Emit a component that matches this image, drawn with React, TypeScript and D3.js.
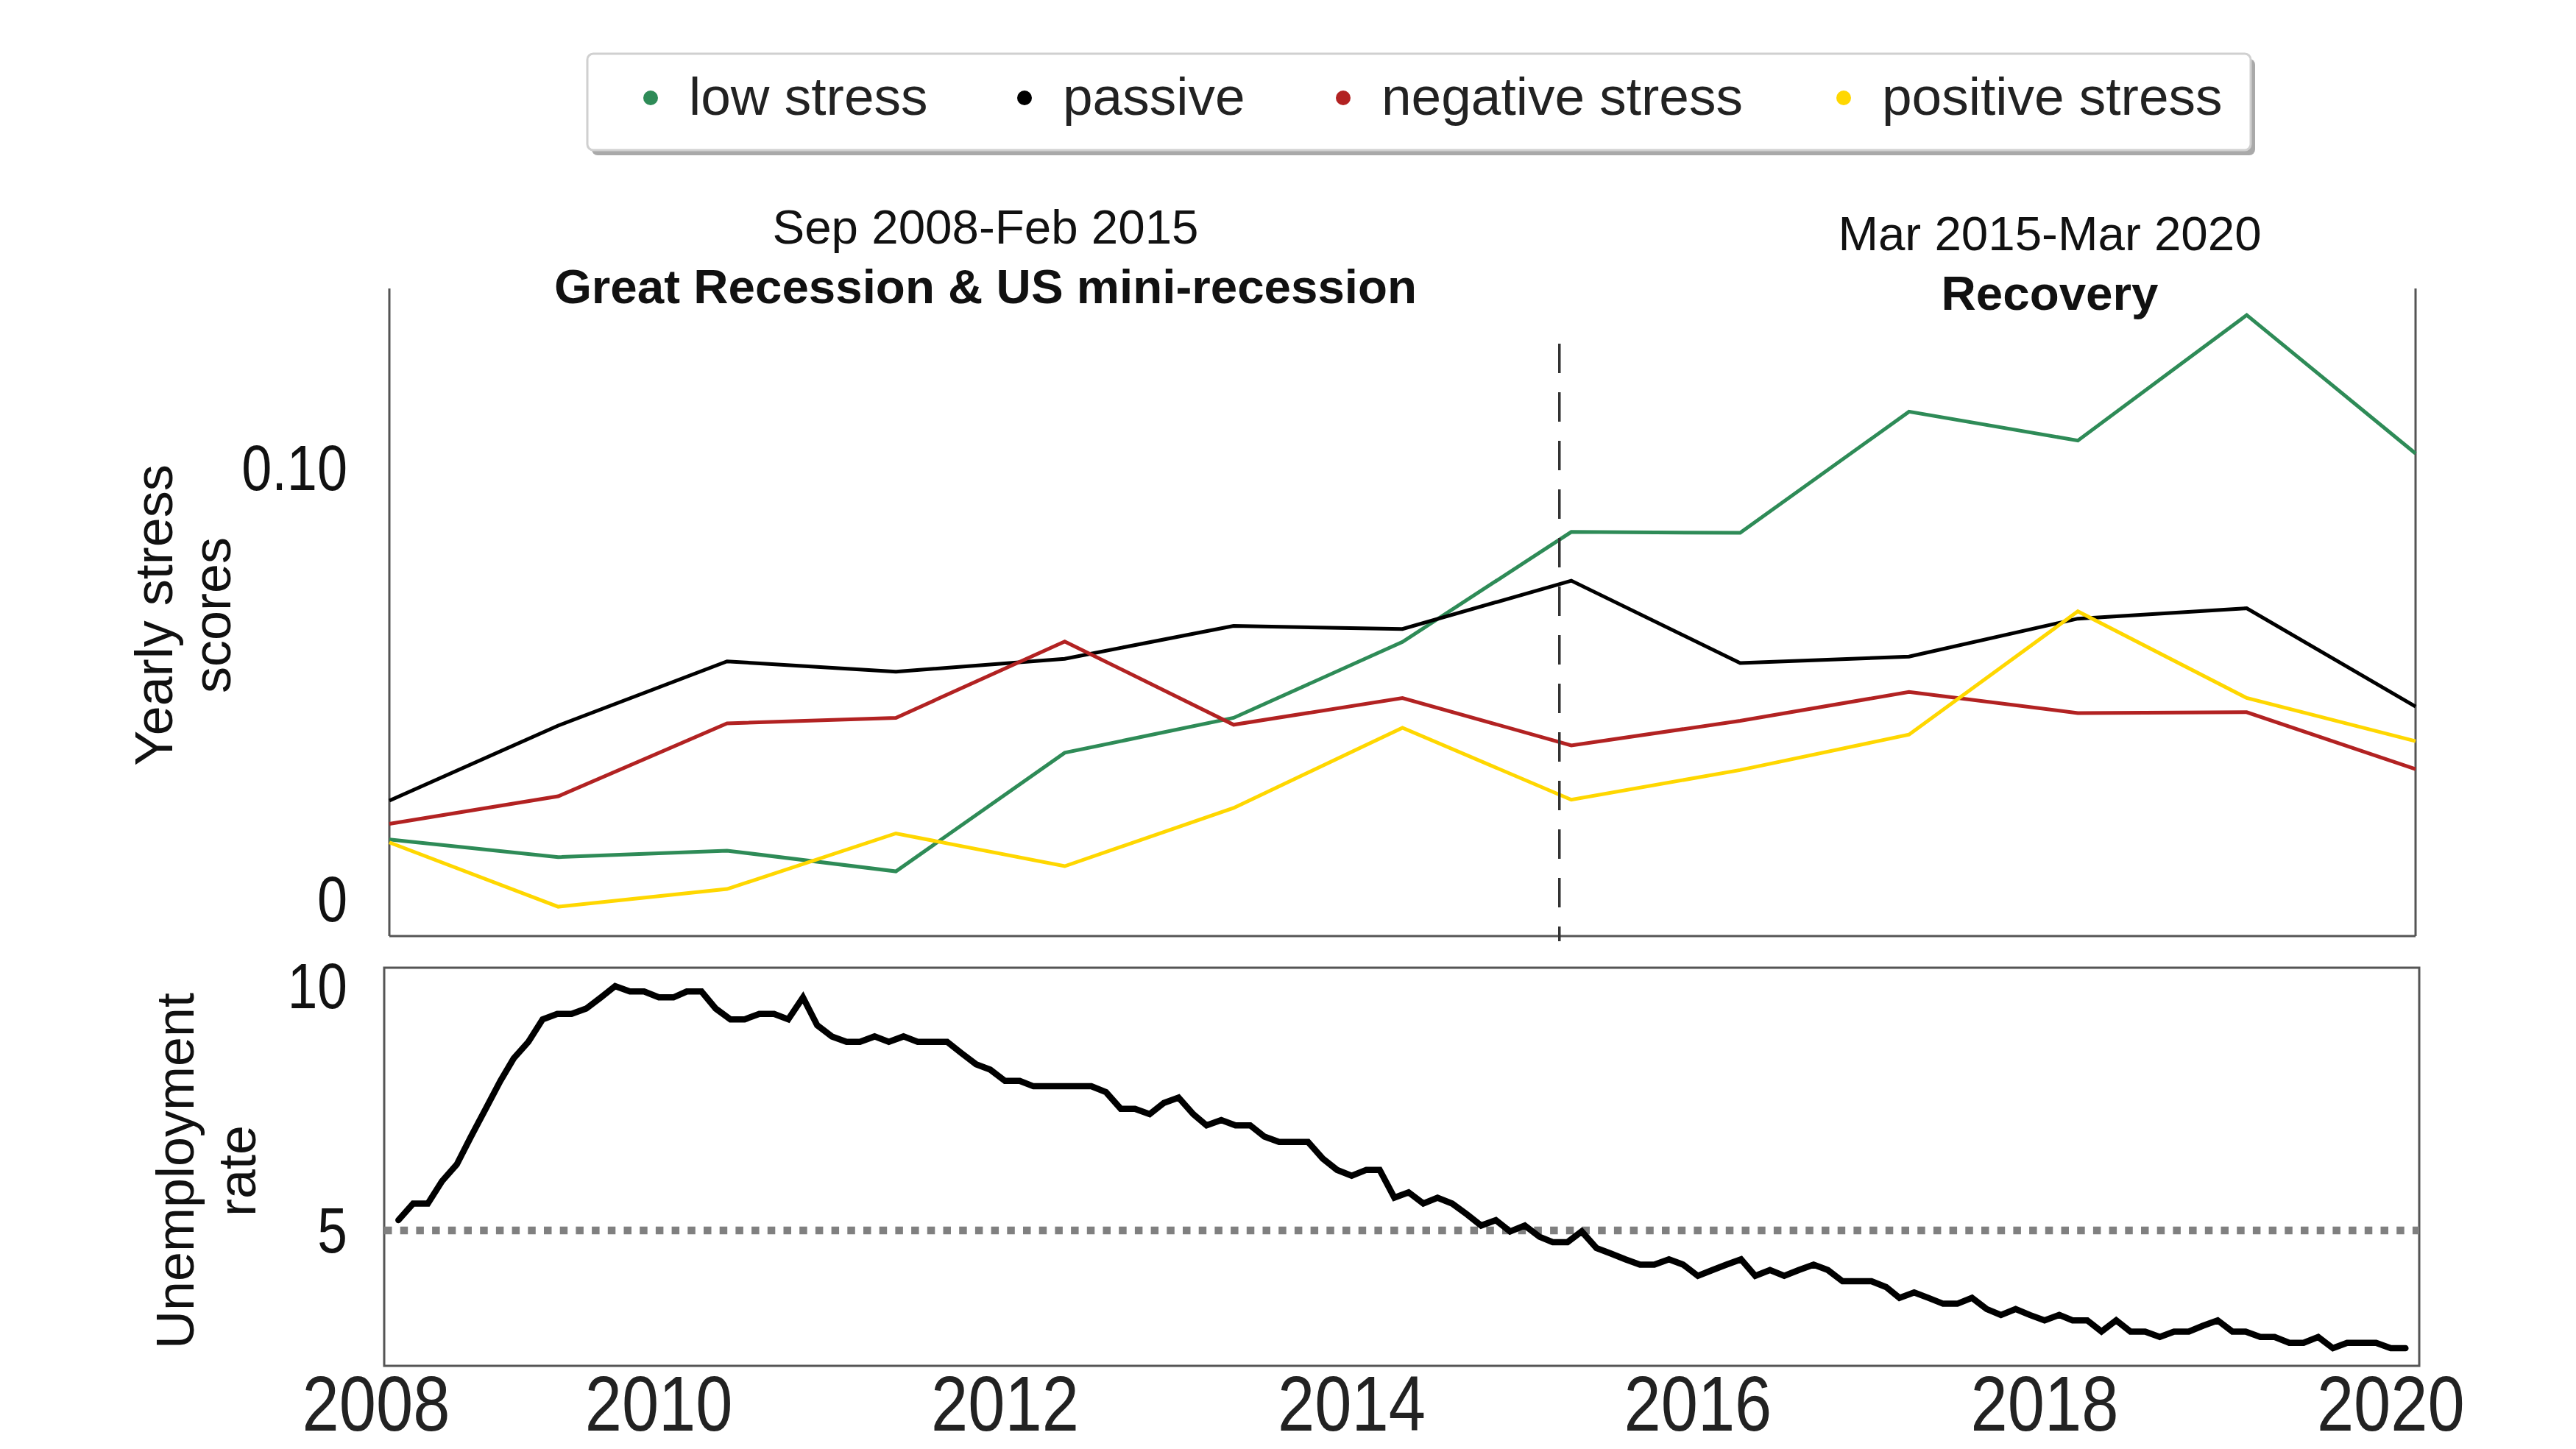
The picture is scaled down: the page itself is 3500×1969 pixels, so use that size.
import React from 'react';
import * as d3 from 'd3';

// ---------- data ----------
const stressYears = ['2008', '2009', '2010', '2011', '2012', '2013', '2014', '2015', '2016', '2017', '2018', '2019', '2020'];
const lowStress = [0.0149, 0.0108, 0.0123, 0.0075, 0.035, 0.0431, 0.0607, 0.0862, 0.086, 0.1141, 0.1074, 0.1365, 0.1044];
const passive = [0.0239, 0.0413, 0.0562, 0.0538, 0.0568, 0.0644, 0.0637, 0.0749, 0.0558, 0.0573, 0.0661, 0.0685, 0.0457];
const negativeStress = [0.0185, 0.0249, 0.0418, 0.0431, 0.0608, 0.0415, 0.0477, 0.0367, 0.0424, 0.0491, 0.0442, 0.0444, 0.0312];
const positiveStress = [0.0142, -0.0007, 0.0034, 0.0163, 0.0087, 0.0222, 0.0408, 0.0241, 0.031, 0.0392, 0.0678, 0.0477, 0.0377];

const seriesNames = ['low stress', 'passive', 'negative stress', 'positive stress'];
const seriesColors = ['#2e8b57', '#000000', '#b22222', '#ffd700'];

// monthly unemployment rate, starting July 2008 (as read on the chart's axis)
const unemploymentStart = [2008, 6];
const unemp2008 = [5.21, 5.55, 5.55, 6.01, 6.35, 6.92];
const unemp2009 = [7.49, 8.06, 8.52, 8.86, 9.32, 9.43, 9.43, 9.54, 9.77, 10.0, 9.89, 9.89];
const unemp2010 = [9.77, 9.77, 9.89, 9.89, 9.54, 9.32, 9.32, 9.43, 9.43, 9.32, 9.77, 9.2];
const unemp2011 = [8.97, 8.86, 8.86, 8.97, 8.86, 8.97, 8.86, 8.86, 8.86, 8.63, 8.4, 8.29];
const unemp2012 = [8.06, 8.06, 7.95, 7.95, 7.95, 7.95, 7.95, 7.83, 7.49, 7.49, 7.38, 7.61];
const unemp2013 = [7.72, 7.38, 7.15, 7.26, 7.15, 7.15, 6.92, 6.81, 6.81, 6.81, 6.47, 6.24];
const unemp2014 = [6.12, 6.24, 6.24, 5.67, 5.78, 5.55, 5.67, 5.55, 5.33, 5.1, 5.21, 4.98];
const unemp2015 = [5.1, 4.87, 4.76, 4.76, 4.98, 4.64, 4.53, 4.41, 4.3, 4.3, 4.41, 4.3];
const unemp2016 = [4.07, 4.19, 4.3, 4.41, 4.07, 4.19, 4.07, 4.19, 4.3, 4.19, 3.96, 3.96];
const unemp2017 = [3.96, 3.84, 3.62, 3.73, 3.62, 3.5, 3.5, 3.62, 3.39, 3.27, 3.39, 3.27];
const unemp2018 = [3.16, 3.27, 3.16, 3.16, 2.93, 3.16, 2.93, 2.93, 2.82, 2.93, 2.93, 3.05];
const unemp2019 = [3.16, 2.93, 2.93, 2.82, 2.82, 2.7, 2.7, 2.82, 2.59, 2.7, 2.7, 2.7];
const unemp2020 = [2.59, 2.59];

const xTickYears = [2008, 2010, 2012, 2014, 2016, 2018, 2020];
const stressTicks = [0, 0.1];
const unempTicks = [5, 10];
const referenceRate = 5;
const periodBreak = [2015, 2, 15];

const periodLabels = [
  { date: 'Sep 2008-Feb 2015', name: 'Great Recession & US mini-recession' },
  { date: 'Mar 2015-Mar 2020', name: 'Recovery' },
];

// ---------- layout ----------
const W = 3500;
const H = 1969;
const topP = { left: 529, right: 3282, top: 392, bottom: 1272 };
const botP = { left: 522, right: 3287, top: 1315, bottom: 1856 };
const sans = "'Liberation Sans', Arial, Helvetica, sans-serif";

export default function App() {
  const stressSeries = [lowStress, passive, negativeStress, positiveStress];
  const unemployment = [
    ...unemp2008, ...unemp2009, ...unemp2010, ...unemp2011, ...unemp2012, ...unemp2013,
    ...unemp2014, ...unemp2015, ...unemp2016, ...unemp2017, ...unemp2018, ...unemp2019, ...unemp2020,
  ];
  const start = new Date(unemploymentStart[0], unemploymentStart[1], 1);
  const unempPoints = unemployment.map((v, i) => ({ date: d3.timeMonth.offset(start, i), v }));

  const xStress = d3.scalePoint<string>().domain(stressYears).range([topP.left, topP.right]);
  const yStress = d3.scaleLinear().domain([0, 0.1]).range([1228, 642]);
  const xTime = d3
    .scaleTime()
    .domain([new Date(2008, 5, 1), new Date(2020, 2, 1)])
    .range([botP.left, botP.right]);
  const yUnemp = d3.scaleLinear().domain([5, 10]).range([1672, 1340]);

  const stressLine = d3
    .line<number>()
    .x((_, i) => xStress(stressYears[i]) as number)
    .y((d) => yStress(d));
  const unempLine = d3
    .line<{ date: Date; v: number }>()
    .x((d) => xTime(d.date))
    .y((d) => yUnemp(d.v));

  const breakX = xTime(new Date(periodBreak[0], periodBreak[1], periodBreak[2]));

  const legendX = [884, 1392, 1825, 2505];
  const xTickPos = xTickYears.map((y, i) => (i === 0 ? xTime.domain()[0] : new Date(y, 0, 1)));

  return (
    <svg
      width={W}
      height={H}
      viewBox={`0 0 ${W} ${H}`}
      style={{ position: 'absolute', left: 0, top: 0, background: '#fff' }}
    >
      <rect x={0} y={0} width={W} height={H} fill="#fff" />

      {/* legend */}
      <rect x={804} y={80} width={2260} height={131} rx={8} fill="#a9a9a9" />
      <rect x={798} y={73} width={2260} height={131} rx={8} fill="#fff" stroke="#d0d0d0" strokeWidth={3} />
      {seriesNames.map((name, i) => (
        <g key={name}>
          <circle cx={legendX[i]} cy={133} r={10} fill={seriesColors[i]} />
          <text x={legendX[i] + 52} y={156} fontFamily={sans} fontSize={73} fill="#222">
            {name}
          </text>
        </g>
      ))}

      {/* period annotations */}
      <text x={1339} y={331} textAnchor="middle" fontFamily={sans} fontSize={65.5} fill="#111">
        {periodLabels[0].date}
      </text>
      <text x={1339} y={412} textAnchor="middle" fontFamily={sans} fontSize={65.5} fontWeight="bold" fill="#111">
        {periodLabels[0].name}
      </text>
      <text x={2785} y={340} textAnchor="middle" fontFamily={sans} fontSize={65.5} fill="#111">
        {periodLabels[1].date}
      </text>
      <text x={2785} y={421} textAnchor="middle" fontFamily={sans} fontSize={65.5} fontWeight="bold" fill="#111">
        {periodLabels[1].name}
      </text>

      {/* top panel axes */}
      <g stroke="#555" strokeWidth={3} fill="none">
        <line x1={topP.left} y1={topP.top} x2={topP.left} y2={topP.bottom} />
        <line x1={topP.right} y1={topP.top} x2={topP.right} y2={topP.bottom} />
        <line x1={topP.left} y1={topP.bottom} x2={topP.right} y2={topP.bottom} />
      </g>
      {stressTicks.map((t) => (
        <text
          key={t}
          transform={`translate(472,${yStress(t) - 7}) scale(0.84,1)`}
          textAnchor="end"
          dominantBaseline="central"
          fontFamily={sans}
          fontSize={88}
          fill="#111"
        >
          {t === 0 ? '0' : d3.format('.2f')(t)}
        </text>
      ))}
      <text
        transform={`translate(${274},${836}) rotate(-90)`}
        textAnchor="middle"
        fontFamily={sans}
        fontSize={72}
        fill="#111"
      >
        <tspan x={0} dy={-40}>Yearly stress</tspan>
        <tspan x={0} dy={79}>scores</tspan>
      </text>

      {/* stress lines */}
      {stressSeries.map((vals, i) => (
        <path
          key={seriesNames[i]}
          d={stressLine(vals) as string}
          fill="none"
          stroke={seriesColors[i]}
          strokeWidth={5}
          strokeLinejoin="miter"
        />
      ))}

      {/* period break */}
      <line
        x1={breakX}
        x2={breakX}
        y1={467}
        y2={1279}
        stroke="#333"
        strokeWidth={3.5}
        strokeDasharray="40 26"
      />

      {/* bottom panel */}
      <rect
        x={botP.left}
        y={botP.top}
        width={botP.right - botP.left}
        height={botP.bottom - botP.top}
        fill="none"
        stroke="#555"
        strokeWidth={3}
      />
      <line
        x1={botP.left}
        x2={botP.right}
        y1={yUnemp(referenceRate)}
        y2={yUnemp(referenceRate)}
        stroke="#808080"
        strokeWidth={10.5}
        strokeDasharray="10.5 11.2"
      />
      <path
        d={unempLine(unempPoints) as string}
        fill="none"
        stroke="#000"
        strokeWidth={8.5}
        strokeLinejoin="miter"
        strokeLinecap="round"
      />
      {unempTicks.map((t) => (
        <text
          key={t}
          transform={`translate(472,${yUnemp(t)}) scale(0.83,1)`}
          textAnchor="end"
          dominantBaseline="central"
          fontFamily={sans}
          fontSize={88}
          fill="#111"
        >
          {t}
        </text>
      ))}
      <text
        transform={`translate(${281},${1591}) rotate(-90)`}
        textAnchor="middle"
        fontFamily={sans}
        fontSize={72}
        fill="#111"
      >
        <tspan x={0} dy={-18}>Unemployment</tspan>
        <tspan x={0} dy={84}>rate</tspan>
      </text>

      {/* x axis labels */}
      {xTickPos.map((d, i) => (
        <text
          key={xTickYears[i]}
          transform={`translate(${xTime(d) - (i === 0 ? 11 : 0)},1944) scale(0.86,1)`}
          textAnchor="middle"
          fontFamily={sans}
          fontSize={105}
          fill="#222"
        >
          {xTickYears[i]}
        </text>
      ))}
    </svg>
  );
}
